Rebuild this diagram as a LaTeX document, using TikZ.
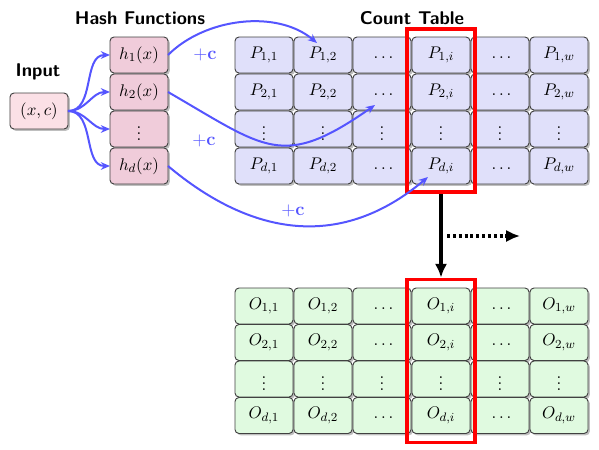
\documentclass[tikz,border=0pt]{standalone}
\usetikzlibrary{shadows,arrows.meta,calc}
\definecolor{inputfill}{RGB}{251,224,230}
\definecolor{hashfill}{RGB}{240,204,218}
\definecolor{pfill}{RGB}{224,224,250}
\definecolor{ofill}{RGB}{224,250,224}
\definecolor{arrowblue}{RGB}{85,85,255}
\def\myvmark{v}
\def\myhmark{h}
\newcommand\cellcontent[3]{\edef\argr{#2}\edef\argc{#3}%
  \ifx\argr\myvmark$\vdots$\else\ifx\argc\myhmark$\vphantom{#1_{1,1}}\ldots$\else$#1_{#2,#3}$\fi\fi}
\begin{document}
\begin{tikzpicture}[x=0.65pt,y=-0.65pt,
  cell/.style={draw=black!75, line width=0.6pt, rounded corners=2.6pt,
    minimum width=37.7pt, minimum height=23.4pt, inner sep=0pt, outer sep=0pt,
    font=\fontsize{10.95}{13}\selectfont,
    drop shadow={shadow xshift=1.2pt, shadow yshift=-1.2pt, opacity=0.5}},
  title/.style={font=\sffamily\bfseries\large},
  sel/.style={draw=red, line width=2.4pt, minimum width=44.2pt, minimum height=106pt, inner sep=0pt},
  bluearrow/.style={draw=arrowblue, line width=1.3pt, -{Stealth[length=6pt,width=5pt]}},
  pluslab/.style={text=arrowblue, font=\large\bfseries}
]
\useasboundingbox (0,0) rectangle (599,449);

\node[title] (tin) at (38,72) {Input};
\node[title] (thash) at (140,18) {Hash Functions};
\node[title] (tcount) at (412,18) {Count Table};

\node[cell, fill=inputfill] (in) at (39,111) {$(x,c)$};
\node[cell, fill=hashfill] (h1) at (139,55) {$h_1(x)$};
\node[cell, fill=hashfill] (h2) at (139,92) {$h_2(x)$};
\node[cell, fill=hashfill] (hv) at (139,129) {$\vdots$};
\node[cell, fill=hashfill] (hd) at (139,166) {$h_d(x)$};

\foreach \r/\y/\rl in {1/55/1,2/92/2,3/129/v,4/166/d}{
  \foreach \c/\x/\cl in {1/264/1,2/323/2,3/382/h,4/441/i,5/500/h,6/559/w}{
    \node[cell, fill=pfill] (P\r\c) at (\x,\y) {\cellcontent{P}{\rl}{\cl}};
  }}
\foreach \r/\y/\rl in {1/306/1,2/342.5/2,3/379/v,4/415.5/d}{
  \foreach \c/\x/\cl in {1/264/1,2/323/2,3/382/h,4/441/i,5/500/h,6/559/w}{
    \node[cell, fill=ofill] (O\r\c) at (\x,\y) {\cellcontent{O}{\rl}{\cl}};
  }}

\node[sel] (selP) at (441,110.5) {};
\node[sel] (selO) at (441,361) {};

\draw[line width=2pt, -{Latex[length=9pt,width=8pt]}] (selP.south) -- (selO.north);
\coordinate (ds) at (447,236);
\coordinate (de) at (520,236);
\draw[line width=2pt, dash pattern=on 2pt off 1.8pt, -{Latex[length=9pt,width=8pt]}] (ds) -- (de);

\draw[bluearrow] (in.east) to[out=0,in=180] (h1.west);
\draw[bluearrow] (in.east) to[out=0,in=180] (h2.west);
\draw[bluearrow] (in.east) to[out=0,in=180] (hv.west);
\draw[bluearrow] (in.east) to[out=0,in=180] (hd.west);

\draw[bluearrow] (h1.east) to[out=45,in=140,looseness=0.9] ([shift={(-6,-12)}]P12.center);
\draw[bluearrow] (h2.east) to[out=-30,in=215,looseness=1.4] ([shift={(-7,13)}]P23.center);
\draw[bluearrow] (hd.east) to[out=-40,in=220,looseness=1.1] ([shift={(-13,11)}]P44.center);

\node[pluslab] (c1) at (205,55) {$\mathbf{+c}$};
\node[pluslab] (c2) at (204,141) {$\mathbf{+c}$};
\node[pluslab] (c3) at (293,211) {$\mathbf{+c}$};
\end{tikzpicture}
\end{document}
